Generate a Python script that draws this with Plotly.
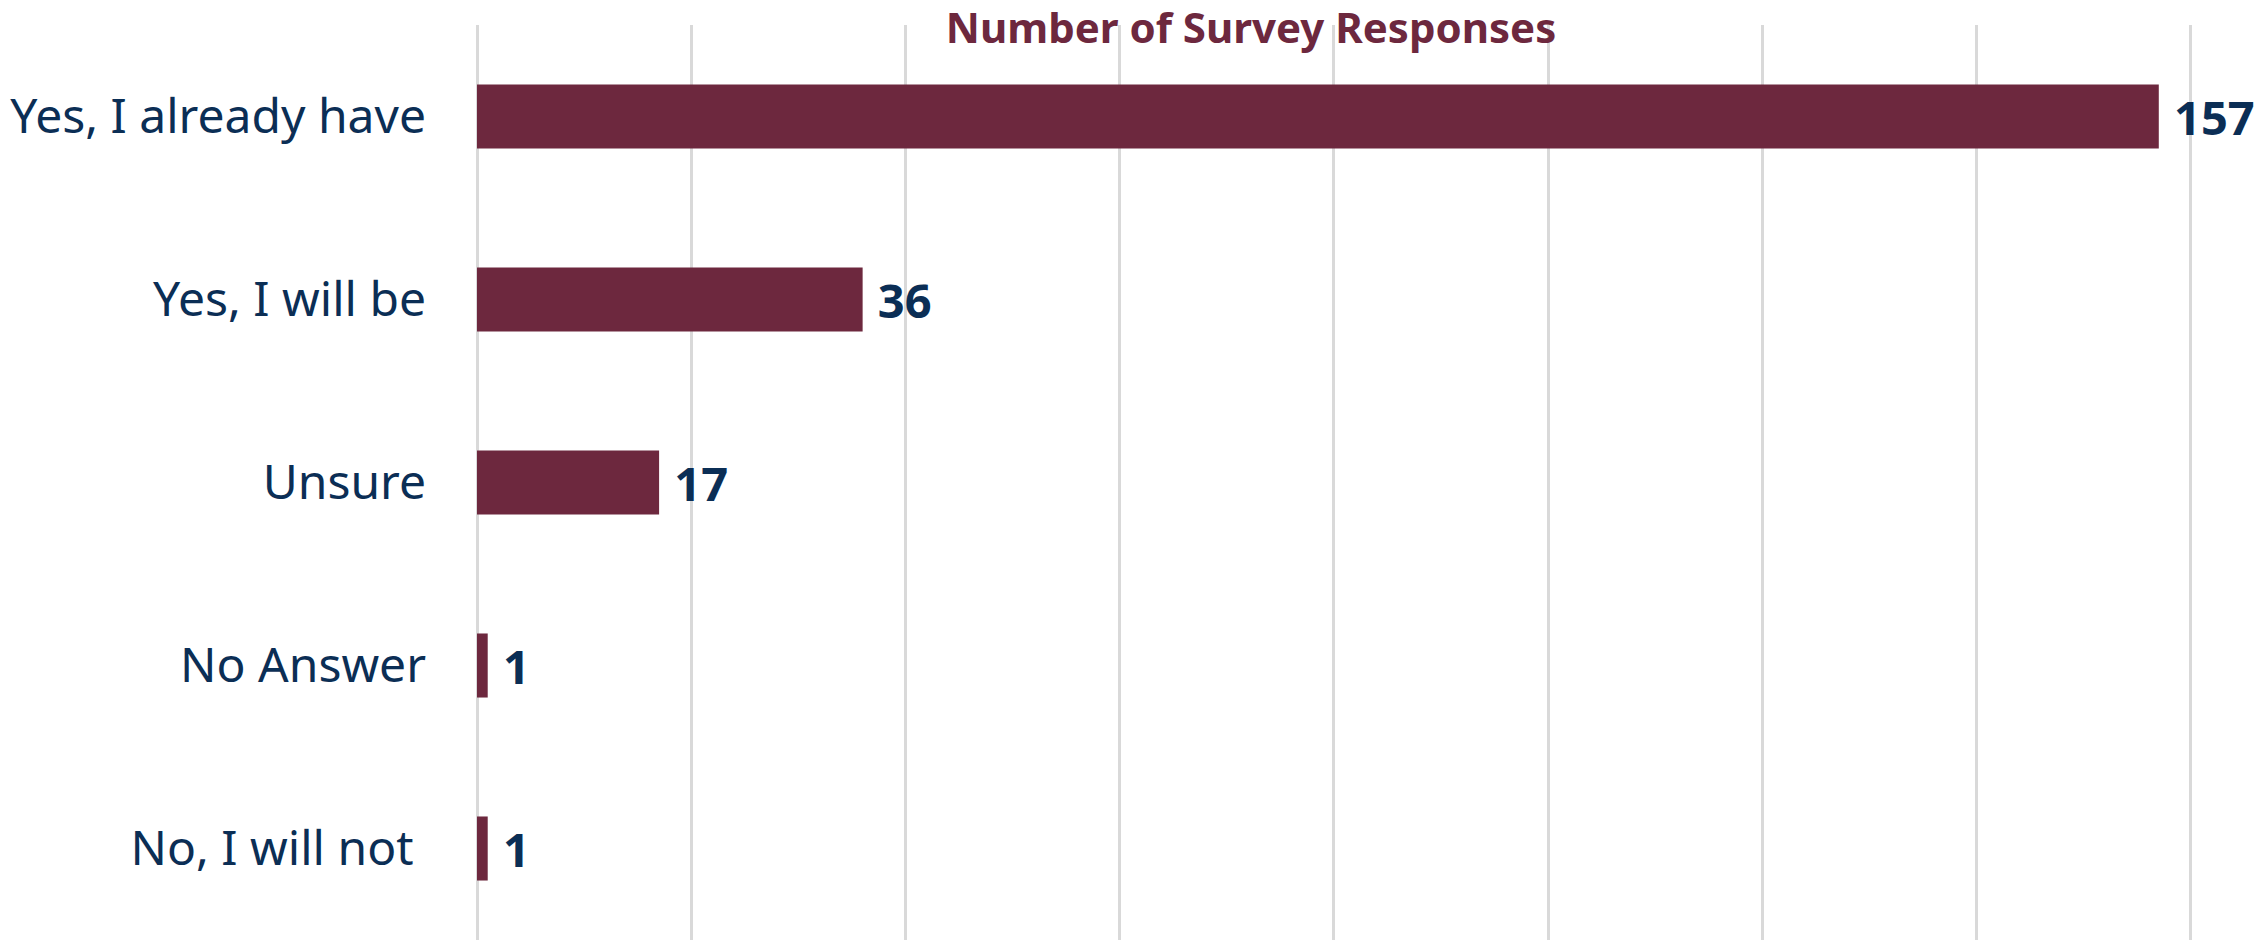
import plotly.graph_objects as go

categories = ["Yes, I already have", "Yes, I will be", "Unsure", "No Answer", "No, I will not "]
responses = [157, 36, 17, 1, 1]
x_ticks = [0, 20, 40, 60, 80, 100, 120, 140, 160]
title_text = "Number of Survey Responses"

BAR = "#6D283E"
NAVY = "#0B2E55"
GRID = "#D9D9D9"

fig = go.Figure(
    go.Bar(
        x=responses,
        y=categories,
        orientation="h",
        marker=dict(color=BAR, line=dict(width=0)),
        text=responses,
        texttemplate=" %{x}",
        textposition="outside",
        textfont=dict(family="Noto Sans", size=47, color=NAVY, weight="bold"),
        cliponaxis=False,
        constraintext="none",
        hoverinfo="skip",
    )
)

fig.update_layout(
    width=2266,
    height=943,
    margin=dict(l=477, r=74, t=25, b=3),
    paper_bgcolor="white",
    plot_bgcolor="white",
    bargap=0.65,
    showlegend=False,
    title=dict(
        text=title_text,
        x=1251 / 2266,
        xanchor="center",
        xref="container",
        y=1 - 28 / 943,
        yanchor="middle",
        yref="container",
        font=dict(family="Noto Sans", size=42, color=BAR, weight="bold"),
    ),
    xaxis=dict(
        range=[0, 160.1],
        tickvals=x_ticks,
        showticklabels=False,
        showgrid=True,
        gridcolor=GRID,
        gridwidth=2.5,
        zeroline=True,
        zerolinecolor=GRID,
        zerolinewidth=2.5,
        showline=False,
        fixedrange=True,
    ),
    yaxis=dict(
        categoryorder="array",
        categoryarray=categories,
        autorange="reversed",
        showgrid=False,
        zeroline=False,
        showline=False,
        ticks="",
        ticklabelstandoff=50,
        tickfont=dict(family="Noto Sans", size=48, color=NAVY),
        fixedrange=True,
    ),
)

fig.write_html(
    "out.html",
    config={"displayModeBar": False},
    post_script="document.body.style.margin='0';document.body.style.padding='0';",
)
